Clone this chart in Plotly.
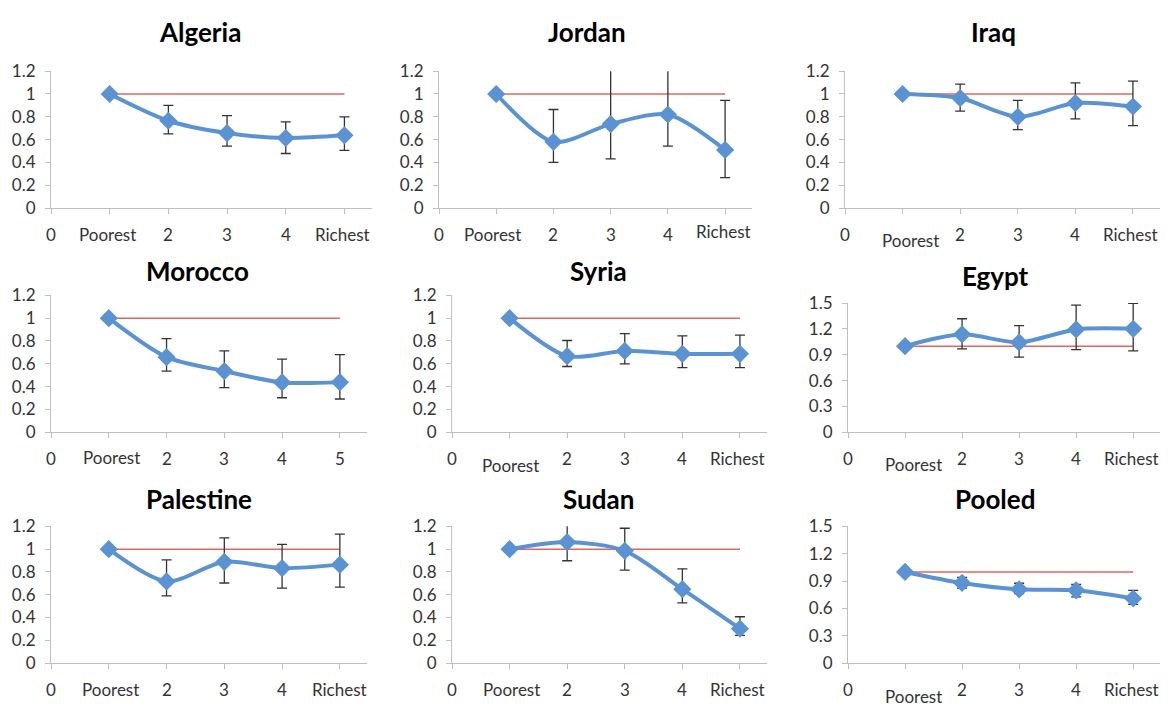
import plotly.graph_objects as go

# ---------------- data ----------------
quintile_x = [1, 2, 3, 4, 5]
tick_labels = ["0", "Poorest", "2", "3", "4", "Richest"]
tick_labels_morocco = ["0", "Poorest", "2", "3", "4", "5"]
reference_level = [1, 1, 1, 1, 1]

algeria_val = [1.0, 0.765, 0.657, 0.614, 0.637]
algeria_hi = [None, 0.90, 0.81, 0.756, 0.80]
algeria_lo = [None, 0.65, 0.543, 0.478, 0.506]

jordan_val = [1.0, 0.58, 0.736, 0.82, 0.509]
jordan_hi = [None, 0.864, 1.30, 1.25, 0.944]
jordan_lo = [None, 0.40, 0.43, 0.543, 0.267]

iraq_val = [1.0, 0.964, 0.80, 0.921, 0.89]
iraq_hi = [None, 1.086, 0.944, 1.098, 1.112]
iraq_lo = [None, 0.85, 0.688, 0.782, 0.722]

morocco_val = [1.0, 0.658, 0.536, 0.436, 0.439]
morocco_hi = [None, 0.821, 0.713, 0.641, 0.681]
morocco_lo = [None, 0.536, 0.39, 0.302, 0.291]

syria_val = [1.0, 0.667, 0.713, 0.687, 0.687]
syria_hi = [None, 0.804, 0.864, 0.844, 0.852]
syria_lo = [None, 0.576, 0.599, 0.567, 0.567]

egypt_val = [1.0, 1.137, 1.043, 1.194, 1.201]
egypt_hi = [None, 1.318, 1.239, 1.477, 1.497]
egypt_lo = [None, 0.967, 0.873, 0.96, 0.944]

palestine_val = [1.0, 0.717, 0.889, 0.833, 0.864]
palestine_hi = [None, 0.906, 1.098, 1.042, 1.132]
palestine_lo = [None, 0.59, 0.703, 0.658, 0.666]

sudan_val = [1.0, 1.062, 0.985, 0.649, 0.302]
sudan_hi = [None, 1.23, 1.183, 0.827, 0.407]
sudan_lo = [None, 0.898, 0.816, 0.528, 0.243]

pooled_val = [1.0, 0.879, 0.809, 0.798, 0.709]
pooled_hi = [None, 0.94, 0.876, 0.862, 0.798]
pooled_lo = [None, 0.823, 0.762, 0.727, 0.645]

y_ticks_12 = [0, 0.2, 0.4, 0.6, 0.8, 1, 1.2]
y_ticks_15 = [0, 0.3, 0.6, 0.9, 1.2, 1.5]

# ---------------- layout config (pixels) ----------------
W, H = 1172, 711
panels = [
    # name, val, hi, lo, labels, yticks, x0, x1, ytop, ybot, title_x, title_y, label shifts {index: (dx, dy)}
    ("Algeria", algeria_val, algeria_hi, algeria_lo, tick_labels, y_ticks_12, 51, 372, 62, 203, 200, 22, {1: (-2, 0), 5: (-2, 0)}),
    ("Jordan", jordan_val, jordan_hi, jordan_lo, tick_labels, y_ticks_12, 439, 752, 62, 203, 587, 22, {1: (-4, 0), 5: (-2, -3)}),
    ("Iraq", iraq_val, iraq_hi, iraq_lo, tick_labels, y_ticks_12, 845, 1160, 62, 203, 993, 22, {1: (8, 6), 5: (-2, 0)}),
    ("Morocco", morocco_val, morocco_hi, morocco_lo, tick_labels_morocco, y_ticks_12, 51, 367, 293, 434, 198, 268, {1: (3, -1)}),
    ("Syria", syria_val, syria_hi, syria_lo, tick_labels, y_ticks_12, 452, 767, 293, 434, 598, 268, {1: (1, 7), 5: (-2, 0)}),
    ("Egypt", egypt_val, egypt_hi, egypt_lo, tick_labels, y_ticks_15, 848, 1160, 301, 434, 995, 273, {1: (8, 6), 5: (-2, 0)}),
    ("Palestine", palestine_val, palestine_hi, palestine_lo, tick_labels, y_ticks_12, 51, 367, 531, 672, 199, 503, {1: (2, 0)}),
    ("Sudan", sudan_val, sudan_hi, sudan_lo, tick_labels, y_ticks_12, 452, 767, 531, 672, 598, 503, {1: (2, 0), 5: (-2, 0)}),
    ("Pooled", pooled_val, pooled_hi, pooled_lo, tick_labels, y_ticks_15, 848, 1160, 531, 672, 995, 503, {1: (8, 7), 5: (-2, 0)}),
]

FONT = "Lato"
BLUE = "#5b93d2"
RED = "#e0665e"
AXIS = "#bfbfbf"
TEXT = "#333333"

fig = go.Figure()
layout = dict(
    width=W, height=H,
    margin=dict(l=0, r=0, t=0, b=0),
    paper_bgcolor="white", plot_bgcolor="white",
    showlegend=False,
    font=dict(family=FONT, size=16, color=TEXT),
)
annotations = []

for i, (name, val, hi, lo, labels, yticks, x0, x1, ytop, ybot, tx, ty, shifts) in enumerate(panels):
    n = "" if i == 0 else str(i + 1)
    xa, ya = "x" + n, "y" + n
    err_plus = [None if h is None else h - v for h, v in zip(hi, val)]
    err_minus = [None if l is None else v - l for l, v in zip(lo, val)]

    fig.add_trace(go.Scatter(
        x=quintile_x, y=reference_level, mode="lines",
        line=dict(color=RED, width=1.5), xaxis=xa, yaxis=ya, hoverinfo="skip"))
    fig.add_trace(go.Scatter(
        x=quintile_x, y=val, mode="lines+markers",
        line=dict(color=BLUE, width=4, shape="spline", smoothing=0.8),
        marker=dict(symbol="diamond", size=14, color=BLUE),
        error_y=dict(type="data", symmetric=False, array=err_plus, arrayminus=err_minus,
                     color="#333333", thickness=1.3, width=5),
        xaxis=xa, yaxis=ya))

    ymax = yticks[-1]
    layout["xaxis" + n] = dict(
        domain=[x0 / W, x1 / W], range=[0, 5.47], anchor=ya,
        showline=True, linecolor=AXIS, linewidth=1,
        ticks="outside", ticklen=5, tickcolor=AXIS, tickvals=[0, 1, 2, 3, 4, 5],
        showticklabels=False, showgrid=False, zeroline=False, fixedrange=True)
    layout["yaxis" + n] = dict(
        domain=[(H - ybot) / H, (H - ytop) / H], range=[0, ymax], anchor=xa,
        showline=True, linecolor=AXIS, linewidth=1,
        ticks="outside", ticklen=5, tickcolor=AXIS, tickvals=yticks,
        ticktext=[f"{t:g}" for t in yticks], ticklabelstandoff=6,
        tickfont=dict(family=FONT, size=17, color=TEXT),
        showgrid=False, zeroline=False, fixedrange=True)

    for k, lab in enumerate(labels):
        dx, dy = shifts.get(k, (0, 0))
        annotations.append(dict(
            text=lab, x=k, y=0, xref=xa, yref=ya + " domain",
            xanchor="center", yanchor="top", showarrow=False,
            xshift=dx, yshift=-14 - dy,
            font=dict(family=FONT, size=17, color=TEXT)))
    annotations.append(dict(
        text=f"<b>{name}</b>", x=tx / W, y=(H - ty) / H, xref="paper", yref="paper",
        xanchor="center", yanchor="middle", showarrow=False,
        font=dict(family=FONT, size=26, color="#000000")))

layout["annotations"] = annotations
fig.update_layout(**layout)
fig.write_html("out.html")
